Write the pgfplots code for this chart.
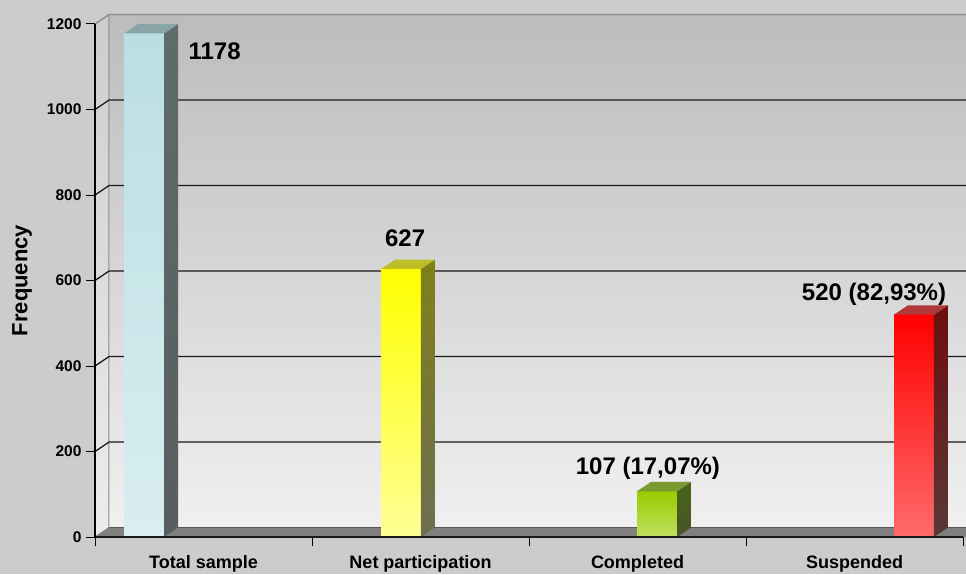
\documentclass[border=0pt]{standalone}
\usepackage{pgfplots}
\pgfplotsset{compat=1.18}
\usepackage{fontspec}
\setmainfont{Liberation Sans}
\definecolor{outerbg}{RGB}{205,203,203}
\definecolor{wallTop}{RGB}{188,188,188}
\definecolor{wallBot}{RGB}{240,240,240}
\definecolor{lwallTop}{RGB}{205,205,205}
\definecolor{lwallBot}{RGB}{236,236,236}
\definecolor{floorc}{RGB}{128,128,128}
\definecolor{edgec}{RGB}{140,140,140}
\definecolor{gridc}{RGB}{25,25,25}
% bar colours
\definecolor{cyT}{RGB}{186,222,226}\definecolor{cyB}{RGB}{217,238,241}
\definecolor{cyS}{RGB}{94,108,108}\definecolor{cyS2}{RGB}{88,94,94}\definecolor{cyTop}{RGB}{138,165,168}
\definecolor{yeT}{RGB}{255,255,0}\definecolor{yeB}{RGB}{255,255,150}
\definecolor{yeS}{RGB}{128,128,24}\definecolor{yeS2}{RGB}{110,110,82}\definecolor{yeTop}{RGB}{190,190,40}
\definecolor{grT}{RGB}{153,204,0}\definecolor{grB}{RGB}{192,224,96}
\definecolor{grS}{RGB}{74,100,24}\definecolor{grS2}{RGB}{70,84,40}\definecolor{grTop}{RGB}{122,154,48}
\definecolor{reT}{RGB}{255,0,0}\definecolor{reB}{RGB}{255,107,107}
\definecolor{reS}{RGB}{110,14,14}\definecolor{reS2}{RGB}{90,56,56}\definecolor{reTop}{RGB}{176,56,56}
\begin{document}
\begin{tikzpicture}
\fill[outerbg] (0,0) rectangle (966pt,574pt);
\begin{axis}[
  at={(95pt,37pt)}, anchor=south west,
  scale only axis, width=868pt, height=513pt,
  xmin=0, xmax=4, ymin=0, ymax=1200,
  clip=false, axis on top,
  axis x line*=bottom, axis y line*=left,
  axis line style={-},
  x axis line style={line width=2pt, black!90},
  y axis line style={line width=1.2pt, black},
  ytick={0,200,...,1200},
  tick align=outside, major tick length=9pt, minor tick length=9pt,
  xtick={0.5,1.5,2.5,3.5},
  xticklabels={Total sample, Net participation, Completed, Suspended},
  minor xtick={0,1,2,3,4},
  major x tick style={draw=none},
  minor x tick style={black, line width=1pt},
  y tick style={black, line width=1pt},
  /pgf/number format/assume math mode=true,
  /pgf/number format/1000 sep={},
  yticklabel style={font=\fontsize{15.5}{16}\selectfont\bfseries, xshift=-1pt},
  xticklabel style={font=\fontsize{18}{18}\selectfont\bfseries, yshift=-6pt},
  ylabel={Frequency},
  ylabel style={at={(axis description cs:-0.0841,0.5)}, anchor=center, font=\fontsize{22}{22}\selectfont\bfseries},
]
% back wall
\addplot[draw=edgec, line width=1pt, top color=wallTop, bottom color=wallBot]
  coordinates {(0.0645,22) (4.0645,22) (4.0645,1222) (0.0645,1222) (0.0645,22)};
% left wall
\addplot[draw=edgec, line width=1pt, top color=lwallTop, bottom color=lwallBot]
  coordinates {(0,0) (0.0645,22) (0.0645,1222) (0,1200) (0,0)};
% floor
\addplot[draw=none, fill=floorc]
  coordinates {(0,0) (4.1,0) (4.1,22) (0.0645,22) (0,0)};
\addplot[draw=gray!70!black, line width=0.8pt] coordinates {(0.0645,22) (4.1,22)};
% grid lines
\addplot[gridc, line width=1.3pt] coordinates {(0,200) (0.0645,222) (4.0645,222)};
\addplot[gridc, line width=1.3pt] coordinates {(0,400) (0.0645,422) (4.0645,422)};
\addplot[gridc, line width=1.3pt] coordinates {(0,600) (0.0645,622) (4.0645,622)};
\addplot[gridc, line width=1.3pt] coordinates {(0,800) (0.0645,822) (4.0645,822)};
\addplot[gridc, line width=1.3pt] coordinates {(0,1000) (0.0645,1022) (4.0645,1022)};
\addplot[edgec, line width=1.2pt] coordinates {(0,1200) (0.0645,1222) (4.0645,1222)};
% bar 1: Total sample = 1178
\addplot[draw=none, top color=cyT, bottom color=cyB] coordinates {(0.134,0) (0.318,0) (0.318,1178) (0.134,1178) (0.134,0)};
\addplot[draw=none, top color=cyS, bottom color=cyS2] coordinates {(0.318,0) (0.3825,22) (0.3825,1200) (0.318,1178) (0.318,0)};
\addplot[draw=none, fill=cyTop] coordinates {(0.134,1178) (0.318,1178) (0.3825,1200) (0.1985,1200) (0.134,1178)};
% bar 2: Net participation = 627
\addplot[draw=none, top color=yeT, bottom color=yeB] coordinates {(1.318,0) (1.502,0) (1.502,627) (1.318,627) (1.318,0)};
\addplot[draw=none, top color=yeS, bottom color=yeS2] coordinates {(1.502,0) (1.5665,22) (1.5665,649) (1.502,627) (1.502,0)};
\addplot[draw=none, fill=yeTop] coordinates {(1.318,627) (1.502,627) (1.5665,649) (1.3825,649) (1.318,627)};
% bar 3: Completed = 107
\addplot[draw=none, top color=grT, bottom color=grB] coordinates {(2.498,0) (2.682,0) (2.682,107) (2.498,107) (2.498,0)};
\addplot[draw=none, top color=grS, bottom color=grS2] coordinates {(2.682,0) (2.7465,22) (2.7465,129) (2.682,107) (2.682,0)};
\addplot[draw=none, fill=grTop] coordinates {(2.498,107) (2.682,107) (2.7465,129) (2.5625,129) (2.498,107)};
% bar 4: Suspended = 520
\addplot[draw=none, top color=reT, bottom color=reB] coordinates {(3.682,0) (3.866,0) (3.866,520) (3.682,520) (3.682,0)};
\addplot[draw=none, top color=reS, bottom color=reS2] coordinates {(3.866,0) (3.9305,22) (3.9305,542) (3.866,520) (3.866,0)};
\addplot[draw=none, fill=reTop] coordinates {(3.682,520) (3.866,520) (3.9305,542) (3.7465,542) (3.682,520)};
% value labels
\node[anchor=west, font=\fontsize{24}{24}\selectfont\bfseries] at (axis cs:0.415,1137) {1178};
\node[font=\fontsize{24}{24}\selectfont\bfseries] at (axis cs:1.429,699) {627};
\node[font=\fontsize{24}{24}\selectfont\bfseries] at (axis cs:2.548,161) {107 (17,07\%)};
\node[font=\fontsize{24}{24}\selectfont\bfseries] at (axis cs:3.59,568) {520 (82,93\%)};
\end{axis}
\pgfresetboundingbox
\path[use as bounding box] (0,0) rectangle (966pt,574pt);
\end{tikzpicture}
\end{document}
